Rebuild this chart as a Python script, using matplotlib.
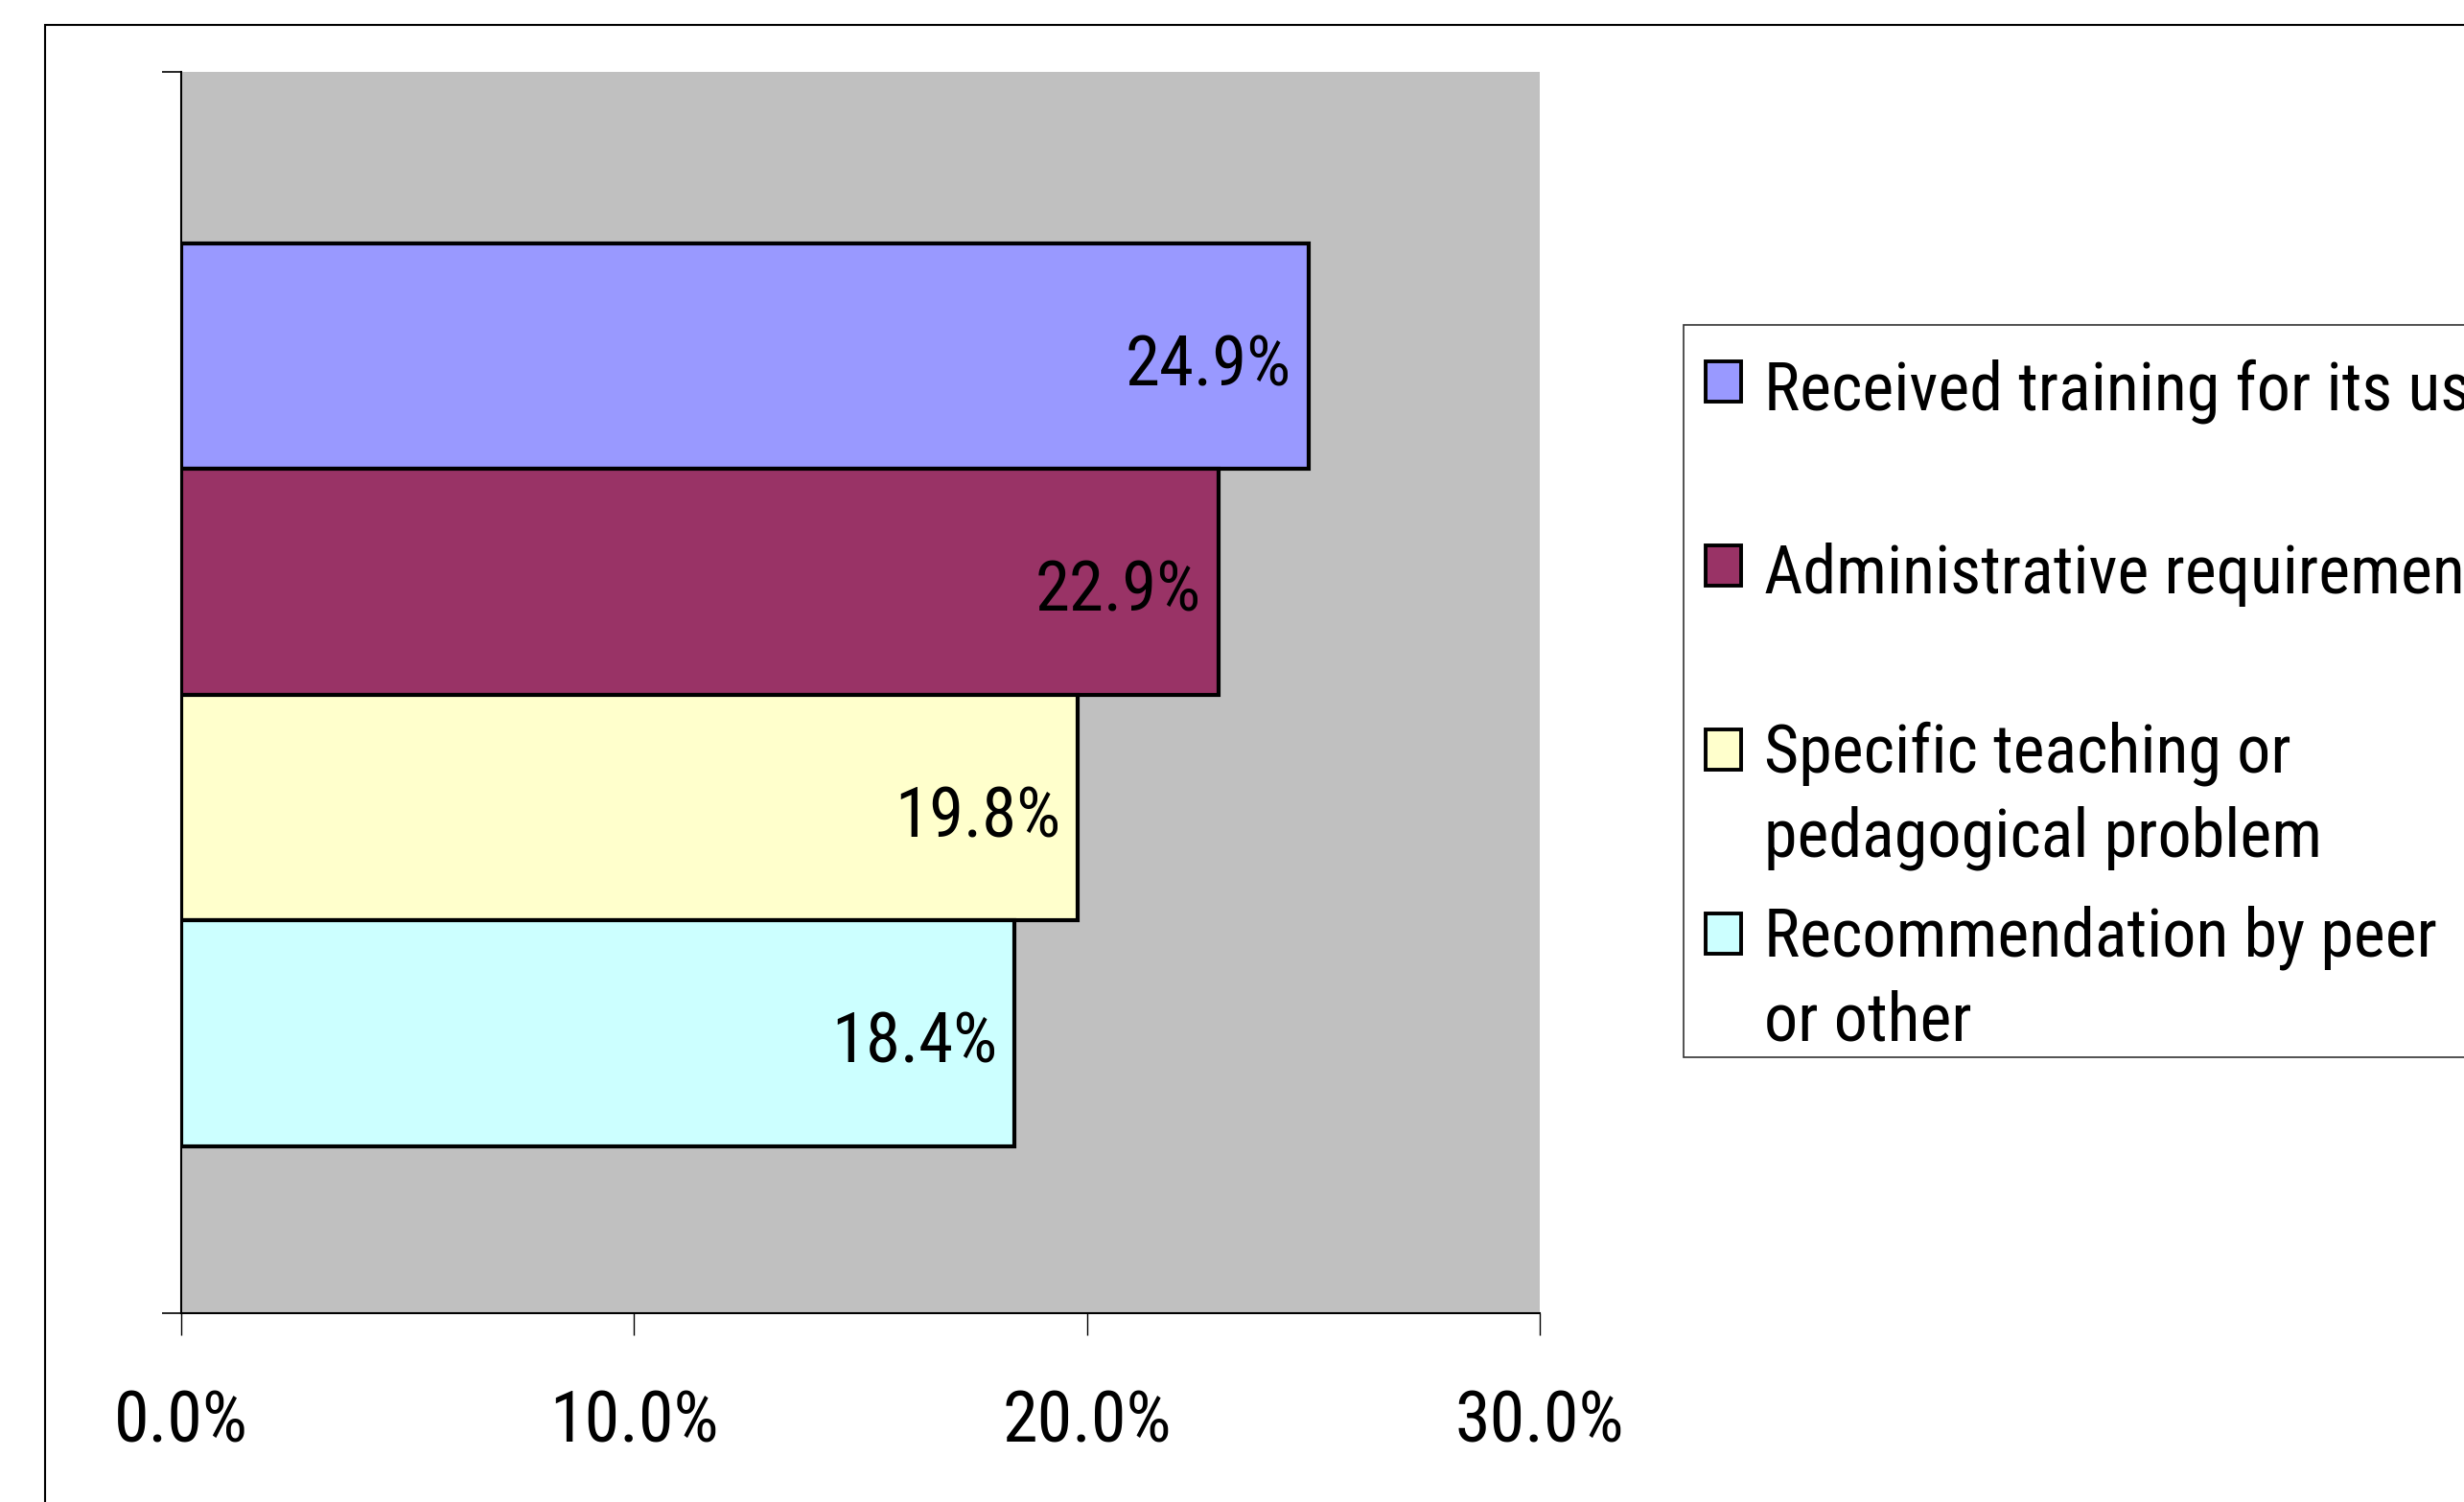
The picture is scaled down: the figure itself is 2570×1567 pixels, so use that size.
import matplotlib
matplotlib.use("Agg")
import matplotlib.pyplot as plt
from matplotlib.patches import Rectangle

# Data (top bar first)
labels = ["Received training for its use",
          "Administrative requirement",
          "Specific teaching or\npedagogical problem",
          "Recommendation by peer\nor other"]
values = [24.9, 22.9, 19.8, 18.4]
colors = ["#9999FF", "#993366", "#FFFFCC", "#CCFFFF"]
xticks = [0, 10, 20, 30]

# narrow sans to mimic Arial Narrow
plt.rcParams["font.family"] = ["Roboto Condensed", "Liberation Sans", "DejaVu Sans"]

W, H = 2570, 1567
fig = plt.figure(figsize=(W / 100, H / 100), dpi=100)

# outer chart border (runs off the right and bottom edges)
fig.add_artist(Rectangle((47 / W, -0.2), 1.5, 1.2 - 26 / H, transform=fig.transFigure,
                         fill=False, edgecolor="black", linewidth=1.5))

ax = fig.add_axes([189 / W, 1 - 1370 / H, (1606 - 189) / W, (1370 - 75) / H])
ax.set_facecolor("#C0C0C0")

n = len(values)
ypos = list(range(n - 1, -1, -1))
ax.barh(ypos, values, height=1.0, color=colors, edgecolor="black", linewidth=3, zorder=3)

for y, v in zip(ypos, values):
    ax.annotate(f"{v:.1f}%", xy=(v, y), xytext=(-13, -22), textcoords="offset points",
                ha="right", va="baseline", fontsize=52.5, zorder=4)

ax.set_xlim(0, 30)
ax.set_ylim(-0.5 - 0.74, n - 0.5 + 0.76)
ax.set_xticks(xticks)
ax.set_xticklabels([f"{t:.1f}%" for t in xticks])
ax.set_yticks(ax.get_ylim())
ax.set_yticklabels([])
ax.tick_params(axis="x", direction="out", length=16.5, width=1.0, pad=40, labelsize=53.5)
ax.tick_params(axis="y", direction="out", length=14.5, width=1.2)
for s in ["top", "right"]:
    ax.spines[s].set_visible(False)
ax.spines["left"].set_linewidth(1.5)
ax.spines["bottom"].set_linewidth(1.5)

# legend drawn by hand (box runs off the right edge, as in the original)
lx0, ly_top, ly_bot = 1756, 339, 1103
fig.add_artist(Rectangle((lx0 / W, 1 - ly_bot / H), 1.0, (ly_bot - ly_top) / H,
                         transform=fig.transFigure, facecolor="white",
                         edgecolor="#333333", linewidth=1.2))
for i, (lab, c) in enumerate(zip(labels, colors)):
    base = 427 + 192 * i
    fig.add_artist(Rectangle((1779 / W, 1 - (base - 8) / H), 37 / W, 42 / H,
                             transform=fig.transFigure, facecolor=c,
                             edgecolor="black", linewidth=2.8))
    last = base + 83 * lab.count("\n")
    fig.text(1840 / W, 1 - last / H, lab, ha="left", va="baseline",
             fontsize=50.5, linespacing=1.4)

fig.savefig("out.png", dpi=100)
